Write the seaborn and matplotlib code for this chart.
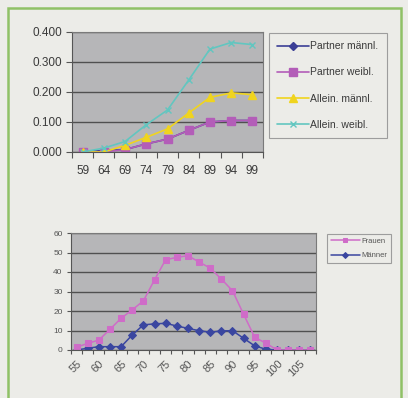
import pandas as pd
import matplotlib
matplotlib.use("Agg")
import matplotlib.pyplot as plt
from matplotlib.patches import Rectangle
from matplotlib.ticker import FixedLocator, NullFormatter
import seaborn as sns

sns.set_theme(style="white")
plt.rcParams['font.family'] = ['Liberation Sans', 'DejaVu Sans']

# top chart data (share by age)
years = [59, 64, 69, 74, 79, 84, 89, 94, 99]
partner_m = [0.000, 0.005, 0.008, 0.027, 0.043, 0.072, 0.100, 0.105, 0.105]
partner_w = [0.000, 0.000, 0.008, 0.027, 0.043, 0.072, 0.100, 0.105, 0.105]
allein_m = [0.000, 0.000, 0.022, 0.049, 0.077, 0.130, 0.182, 0.197, 0.191]
allein_w = [0.000, 0.013, 0.035, 0.091, 0.140, 0.240, 0.343, 0.365, 0.358]

# bottom chart data
age_labels = ['55', '60', '65', '70', '75', '80', '85', '90', '95', '100', '105']
frauen = [1.4, 3.4, 5.1, 10.6, 16.3, 20.6, 25.2, 36.0, 46.3, 47.5, 48.4,
          45.1, 42.0, 36.4, 30.4, 18.3, 6.5, 3.5, 0, 0, 0, 0]
maenner = [0, 0.9, 1.7, 1.7, 1.7, 7.7, 12.9, 13.4, 13.7, 12.3, 11.1,
           9.9, 9.1, 9.8, 9.9, 6.0, 2.1, 0.4, 0, 0, 0, 0]

BG = '#ecece8'
PLOT_BG = '#b6b6b8'
GRID = '#505050'

fig = plt.figure(figsize=(4.08, 3.98), dpi=100, facecolor=BG)
W, H = 408, 398

# green frame around the whole thing
fig.patches.append(Rectangle((8 / W, -0.02), 393 / W, (H - 8) / H + 0.02,
                             transform=fig.transFigure, fill=False,
                             edgecolor='#8fc166', linewidth=1.8))


def style_axes(ax):
    ax.set_facecolor(PLOT_BG)
    for s in ax.spines.values():
        s.set_color('#7a7a7a')
        s.set_linewidth(0.8)
    ax.spines['left'].set_color('#555555')
    ax.spines['bottom'].set_color('#555555')
    ax.yaxis.grid(True, color=GRID, linewidth=1.0)
    ax.set_axisbelow(True)
    ax.tick_params(axis='both', which='major', direction='out', length=4,
                   width=0.8, color='#555555', left=True, bottom=True)
    ax.set_xlabel('')
    ax.set_ylabel('')


# ---------- top chart ----------
ax1 = fig.add_axes([72 / W, 1 - 152 / H, 191 / W, 120 / H])
top = pd.DataFrame({'x': years * 4,
                    'y': partner_m + partner_w + allein_m + allein_w,
                    'serie': ['Partner männl.'] * 9 + ['Partner weibl.'] * 9 +
                             ['Allein. männl.'] * 9 + ['Allein. weibl.'] * 9})
top_styles = {
    'Partner männl.': ('#3b3f96', 'D', 4.5),
    'Partner weibl.': ('#b35db8', 's', 6),
    'Allein. männl.': ('#f0d41e', '^', 6),
    'Allein. weibl.': ('#62c6c0', 'x', 5),
}
for name, (col, mk, ms) in top_styles.items():
    sub = top[top.serie == name]
    sns.lineplot(data=sub, x='x', y='y', ax=ax1, color=col, marker=mk,
                 markersize=ms, markeredgecolor=col, markeredgewidth=1.0,
                 linewidth=1.2, label=name, sort=False)
ax1.set_xlim(years[0] - 2.5, years[-1] + 2.5)
ax1.set_ylim(0, 0.4)
ax1.set_yticks([0, 0.1, 0.2, 0.3, 0.4])
ax1.set_yticklabels(['0.000', '0.100', '0.200', '0.300', '0.400'])
style_axes(ax1)
ax1.xaxis.set_major_locator(FixedLocator([y - 2.5 for y in years] + [years[-1] + 2.5]))
ax1.xaxis.set_major_formatter(NullFormatter())
ax1.set_xticks(years, minor=True)
ax1.set_xticklabels([str(y) for y in years], minor=True)
ax1.tick_params(axis='x', which='minor', length=0, pad=9, labelsize=8.5,
                labelcolor='#3a3a3a')
ax1.tick_params(axis='y', labelsize=8.5, labelcolor='#3a3a3a', pad=3)
leg1 = ax1.legend(loc='upper left', bbox_to_anchor=(269 / W, 1 - 33 / H),
                  bbox_transform=fig.transFigure, frameon=True, fontsize=7.5,
                  labelspacing=1.55, handlelength=3.0, handletextpad=0.15,
                  borderpad=0.8, fancybox=False, borderaxespad=0,
                  markerscale=0.9)
leg1.get_frame().set_edgecolor('#8a8a8a')
leg1.get_frame().set_facecolor(BG)
leg1.get_frame().set_linewidth(0.8)
for t in leg1.get_texts():
    t.set_color('#3a3a3a')

# ---------- bottom chart ----------
ax2 = fig.add_axes([71 / W, 1 - 350 / H, 245 / W, 117 / H])
idx = list(range(len(frauen)))
bottom = pd.DataFrame({'i': idx * 2, 'v': frauen + maenner,
                       'g': ['Frauen'] * len(idx) + ['Männer'] * len(idx)})
bot_styles = {
    'Männer': ('#3a46a0', 'D', 4.3),
    'Frauen': ('#cf6cc8', 's', 4.8),
}
for name, (col, mk, ms) in bot_styles.items():
    sub = bottom[bottom.g == name]
    sns.lineplot(data=sub, x='i', y='v', ax=ax2, color=col, marker=mk,
                 markersize=ms, markeredgecolor=col, linewidth=1.1,
                 label=name, sort=False)
ax2.set_xlim(-0.5, len(idx) - 0.5)
ax2.set_ylim(0, 60)
ax2.set_yticks([0, 10, 20, 30, 40, 50, 60])
style_axes(ax2)
ax2.xaxis.set_major_locator(FixedLocator([i - 0.5 for i in idx] + [len(idx) - 0.5]))
ax2.xaxis.set_major_formatter(NullFormatter())
ax2.tick_params(axis='x', which='major', length=3)
ax2.set_xticks(list(range(0, 21, 2)), minor=True)
ax2.set_xticklabels(age_labels, minor=True, rotation=45, ha='right',
                    rotation_mode='anchor')
ax2.tick_params(axis='x', which='minor', length=0, pad=6, labelsize=8,
                labelcolor='#555555')
ax2.tick_params(axis='y', labelsize=6, labelcolor='#555555', pad=3, length=3)
handles, labels = ax2.get_legend_handles_labels()
order = [labels.index('Frauen'), labels.index('Männer')]
leg2 = ax2.legend([handles[k] for k in order], [labels[k] for k in order],
                  loc='upper left', bbox_to_anchor=(327 / W, 1 - 234 / H),
                  bbox_transform=fig.transFigure, frameon=True, fontsize=5.5,
                  labelspacing=0.9, handlelength=3.8, handletextpad=0.2,
                  borderpad=0.5, fancybox=False, borderaxespad=0,
                  markerscale=0.7)
leg2.get_frame().set_edgecolor('#8a8a8a')
leg2.get_frame().set_facecolor(BG)
leg2.get_frame().set_linewidth(0.8)
for t in leg2.get_texts():
    t.set_color('#555555')

fig.savefig('out.png', dpi=100, facecolor=BG)
